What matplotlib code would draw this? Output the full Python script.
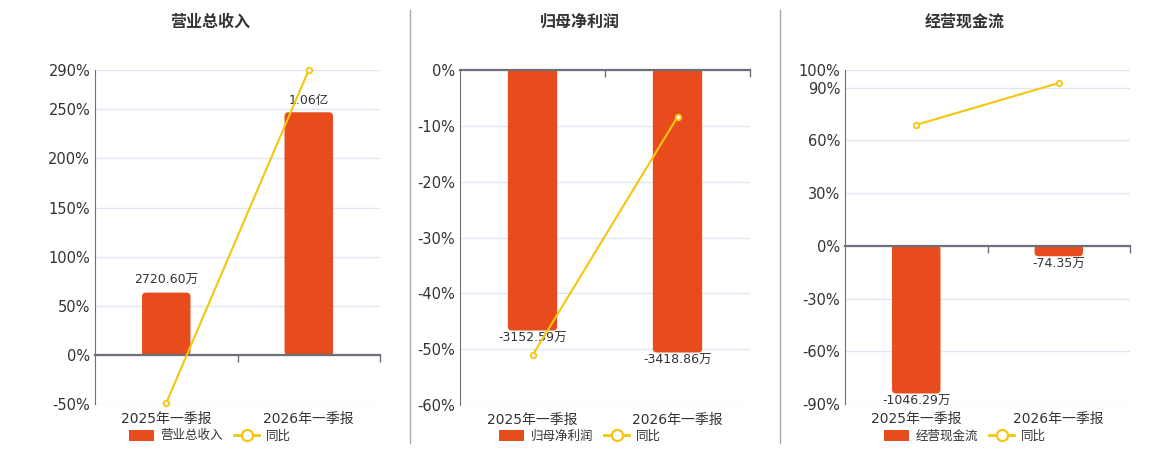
import matplotlib
matplotlib.use("Agg")
import matplotlib.pyplot as plt
from matplotlib.patches import Patch, FancyBboxPatch, Rectangle
from matplotlib.lines import Line2D
from matplotlib.markers import TICKDOWN

plt.rcParams['font.family'] = ['DejaVu Sans', 'Noto Sans CJK SC']

periods = ['2025年一季报', '2026年一季报']

titles = ['营业总收入', '归母净利润', '经营现金流']
bar_values = [[2720.60, 10600.0], [-3152.59, -3418.86], [-1046.29, -74.35]]
bar_labels = [['2720.60万', '1.06亿'], ['-3152.59万', '-3418.86万'], ['-1046.29万', '-74.35万']]
yoy_values = [[-49.0, 290.0], [-51.1, -8.4], [68.8, 92.6]]

pct_limits = [(-50, 290), (-60, 0), (-90, 100)]
pct_ticks = [[-50, 0, 50, 100, 150, 200, 250, 290],
             [-60, -50, -40, -30, -20, -10, 0],
             [-90, -60, -30, 0, 30, 60, 90, 100]]
# percent per 万 of the hidden bar axis
bar_scale = [0.0233, 0.0148, 0.0803]

BAR = '#e84c1d'
LINE = '#f4c60d'
AXIS = '#6e7079'
GRID = '#e0e6f1'
TEXT = '#333333'

W, H = 1160, 450
fig = plt.figure(figsize=(W / 100, H / 100), dpi=100)

# pixel boxes: left, right, top, bottom
boxes = [(95, 380, 70, 404), (460, 750, 70, 405), (845, 1130, 70, 404)]
centers = [210, 580, 965]
radius_px = 4

for i in range(3):
    l, r, t, b = boxes[i]
    ax = fig.add_axes([l / W, 1 - b / H, (r - l) / W, (b - t) / H])
    lo, hi = pct_limits[i]
    x = range(len(periods))

    ax.set_xlim(-0.5, 1.5)
    ax.set_ylim(lo, hi)
    ax.set_yticks(pct_ticks[i])
    ax.set_yticklabels([f'{v}%' for v in pct_ticks[i]])
    ax.set_xticks(list(x))
    ax.set_xticklabels(periods)
    ax.tick_params(axis='both', length=0, colors=TEXT, labelsize=10.5)
    ax.tick_params(axis='x', pad=6, labelsize=10)
    ax.grid(axis='y', color=GRID, linewidth=1)
    ax.set_axisbelow(True)
    for s in ['top', 'right', 'bottom']:
        ax.spines[s].set_visible(False)
    ax.spines['left'].set_color(AXIS)

    # hidden axis for bar amounts
    ax2 = ax.twinx()
    ax2.set_xlim(-0.5, 1.5)
    ax2.set_ylim(lo / bar_scale[i], hi / bar_scale[i])
    ax2.axis('off')
    bars = ax2.bar(list(x), bar_values[i], width=0.34, color=BAR, zorder=2)
    # rounded far end of each bar
    xpp = 2.0 / (r - l)
    ypp = (hi - lo) / bar_scale[i] / (b - t)
    for rect in bars:
        rect.set_visible(False)
        bx, by = rect.get_x(), rect.get_y()
        bw, bh = rect.get_width(), rect.get_height()
        rad = min(radius_px, abs(bh) / ypp / 2) * xpp
        ax2.add_patch(FancyBboxPatch((bx, min(by, by + bh)), bw, abs(bh),
                                     boxstyle=f'round,pad=0,rounding_size={rad}',
                                     mutation_aspect=ypp / xpp,
                                     facecolor=BAR, edgecolor='none', zorder=2))
        ax2.add_patch(Rectangle((bx, by), bw, bh / 2, facecolor=BAR,
                                edgecolor='none', zorder=2))
    ax2.bar_label(bars, labels=bar_labels[i], fontsize=9, color=TEXT,
                  padding=4 if bar_values[i][0] > 0 else 1)

    # line axis in percent
    ax3 = ax.twinx()
    ax3.set_ylim(lo, hi)
    ax3.set_xlim(-0.5, 1.5)
    ax3.axis('off')
    ax3.axhline(0, color=AXIS, linewidth=1.6, zorder=1, clip_on=False)
    ax3.plot([0.5, 1.5], [0, 0], linestyle='none', marker=TICKDOWN,
             markersize=5, color=AXIS, clip_on=False)
    ax3.plot(list(x), yoy_values[i], color=LINE, linewidth=1.5, marker='o',
             markersize=4, markerfacecolor='white', markeredgecolor=LINE,
             markeredgewidth=1.3, clip_on=False, zorder=3)

    fig.text(centers[i] / W, 1 - 22 / H, titles[i], ha='center', va='center',
             fontsize=11.5, fontweight='bold', color=TEXT)

    handles = [Patch(facecolor=BAR, edgecolor='none'),
               Line2D([0], [0], color=LINE, linewidth=2, marker='o', markersize=8,
                      markerfacecolor='white', markeredgecolor=LINE, markeredgewidth=1.6)]
    fig.legend(handles, [titles[i], '同比'], loc='center', ncol=2, frameon=False,
               bbox_to_anchor=(centers[i] / W, 1 - 436 / H), fontsize=9,
               labelcolor=TEXT, handlelength=2.0, handleheight=1.0,
               columnspacing=0.9, handletextpad=0.5)

# panel separators
for xs in [410, 780]:
    fig.add_artist(Line2D([xs / W, xs / W], [1 - 443 / H, 1 - 10 / H],
                          color='#aaaaaa', linewidth=1))

fig.savefig('out.png', dpi=100)
